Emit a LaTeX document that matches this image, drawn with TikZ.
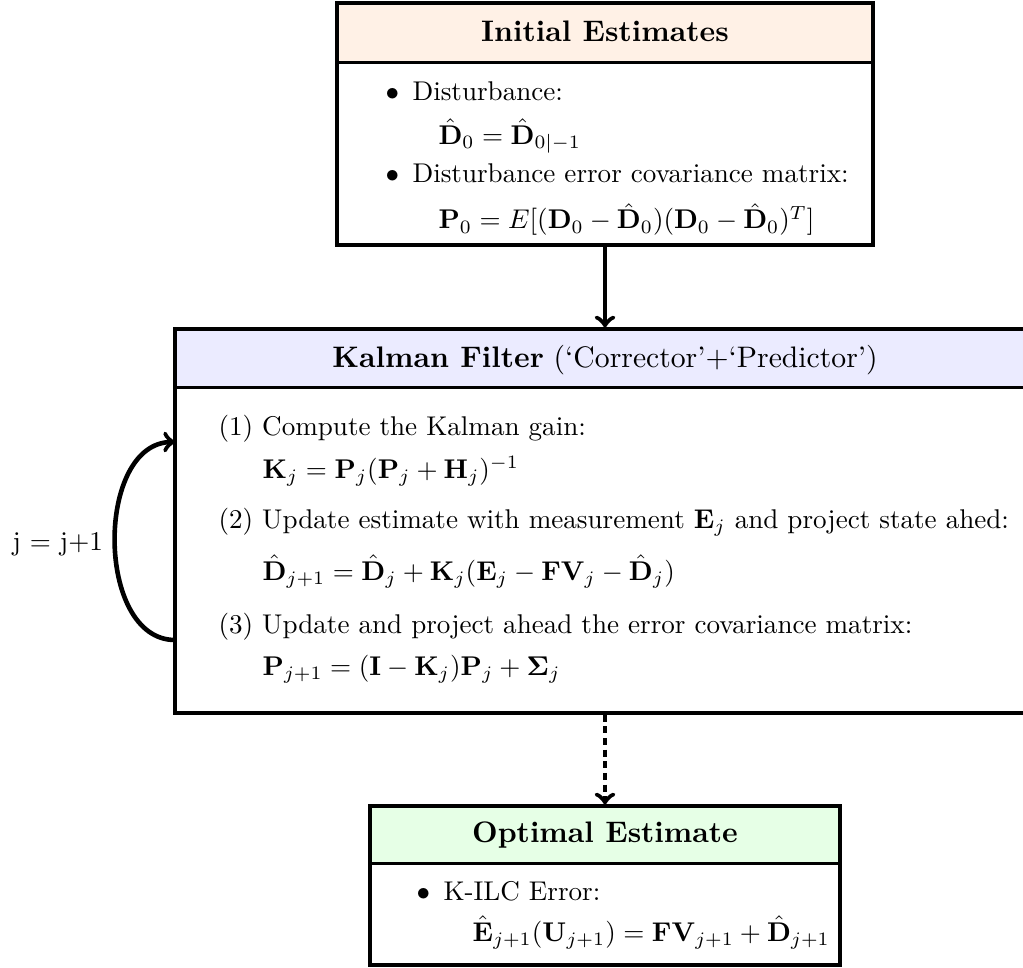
\documentclass[tikz,border=0pt]{standalone}
\usepackage{amsmath}
\usetikzlibrary{fit}
\definecolor{headorange}{RGB}{255,241,230}
\definecolor{headblue}{RGB}{235,235,255}
\definecolor{headgreen}{RGB}{230,255,230}
\tikzset{
  frame/.style={draw, line width=1.2pt, inner sep=0pt},
  headfill/.style={inner sep=0pt},
  divider/.style={line width=1.2pt},
  title/.style={anchor=base, inner sep=0pt, font=\fontsize{10.95}{13.6}\selectfont},
  txt/.style={anchor=base west, inner sep=0pt},
  flow/.style={line width=1.7pt, ->},
  flowdash/.style={line width=1.7pt, ->, dash pattern=on 2.6pt off 1.7pt}
}
\begin{document}
\begin{tikzpicture}[x=0.369pt, y=-0.369pt]
\useasboundingbox (0,0) rectangle (1023,968);
\clip (0,0) rectangle (1023,968);

% ---------- Initial estimates ----------
\coordinate (iTL) at (337,3);
\coordinate (iHR) at (873,62);
\coordinate (iBR) at (873,245);
\node[headfill, fill=headorange, fit=(iTL)(iHR)] (ihead) {};
\node[frame, fit=(iTL)(iBR)] (init) {};
\draw[divider] (ihead.south west) -- (ihead.south east);
\node[title] (ititle) at (605,42) {\bfseries Initial Estimates};
\node[txt] (ib1) at (385,101) {$\bullet$};
\node[txt] (it1) at (412,101) {Disturbance:};
\node[txt] (if1) at (438,144) {$\hat{\mathbf{D}}_0 = \hat{\mathbf{D}}_{0|-1}$};
\node[txt] (ib2) at (385,182) {$\bullet$};
\node[txt] (it2) at (412,182) {Disturbance error covariance matrix:};
\node[txt] (if2) at (438,229) {$\mathbf{P}_0 = E[(\mathbf{D}_0 - \hat{\mathbf{D}}_0)(\mathbf{D}_0 - \hat{\mathbf{D}}_0)^T]$};

% ---------- Kalman filter ----------
\coordinate (kTL) at (175,329);
\coordinate (kHR) at (1035,387);
\coordinate (kBR) at (1035,713);
\node[headfill, fill=headblue, fit=(kTL)(kHR)] (khead) {};
\node[frame, fit=(kTL)(kBR)] (kal) {};
\draw[divider] (khead.south west) -- (khead.south east);
\node[title] (ktitle) at (605,367) {\textbf{Kalman Filter} (`Corrector'+`Predictor')};
\node[txt] (ks1) at (218,435) {(1) Compute the Kalman gain:};
\node[txt] (kf1) at (262,478) {$\mathbf{K}_j = \mathbf{P}_j(\mathbf{P}_j + \mathbf{H}_j)^{-1}$};
\node[txt] (ks2) at (218,528) {(2) Update estimate with measurement $\mathbf{E}_j$ and project state ahed:};
\node[txt] (kf2) at (262,580) {$\hat{\mathbf{D}}_{j+1} = \hat{\mathbf{D}}_j + \mathbf{K}_j(\mathbf{E}_j - \mathbf{F}\mathbf{V}_j - \hat{\mathbf{D}}_j)$};
\node[txt] (ks3) at (218,633) {(3) Update and project ahead the error covariance matrix:};
\node[txt] (kf3) at (262,675) {$\mathbf{P}_{j+1} = (\mathbf{I} - \mathbf{K}_j)\mathbf{P}_j + \mathbf{\Sigma}_j$};

% ---------- Optimal estimate ----------
\coordinate (oTL) at (370,806);
\coordinate (oHR) at (840,863);
\coordinate (oBR) at (840,965);
\node[headfill, fill=headgreen, fit=(oTL)(oHR)] (ohead) {};
\node[frame, fit=(oTL)(oBR)] (opt) {};
\draw[divider] (ohead.south west) -- (ohead.south east);
\node[title] (otitle) at (605,842) {\bfseries Optimal Estimate};
\node[txt] (ob1) at (416,900) {$\bullet$};
\node[txt] (ot1) at (443,900) {K-ILC Error:};
\node[txt] (of1) at (472,941) {$\hat{\mathbf{E}}_{j+1}(\mathbf{U}_{j+1}) = \mathbf{F}\mathbf{V}_{j+1} + \hat{\mathbf{D}}_{j+1}$};

% ---------- connectors ----------
\draw[flow] (init.south) -- (kal.north);
\draw[flowdash] (kal.south) -- (opt.north);
\coordinate (loopS) at (175,640);
\coordinate (loopE) at (175,442);
\draw[flow] (loopS) .. controls (95,640) and (95,442) .. (loopE);
\node[txt] (jlab) at (12,550) {j = j+1};
\end{tikzpicture}
\end{document}
